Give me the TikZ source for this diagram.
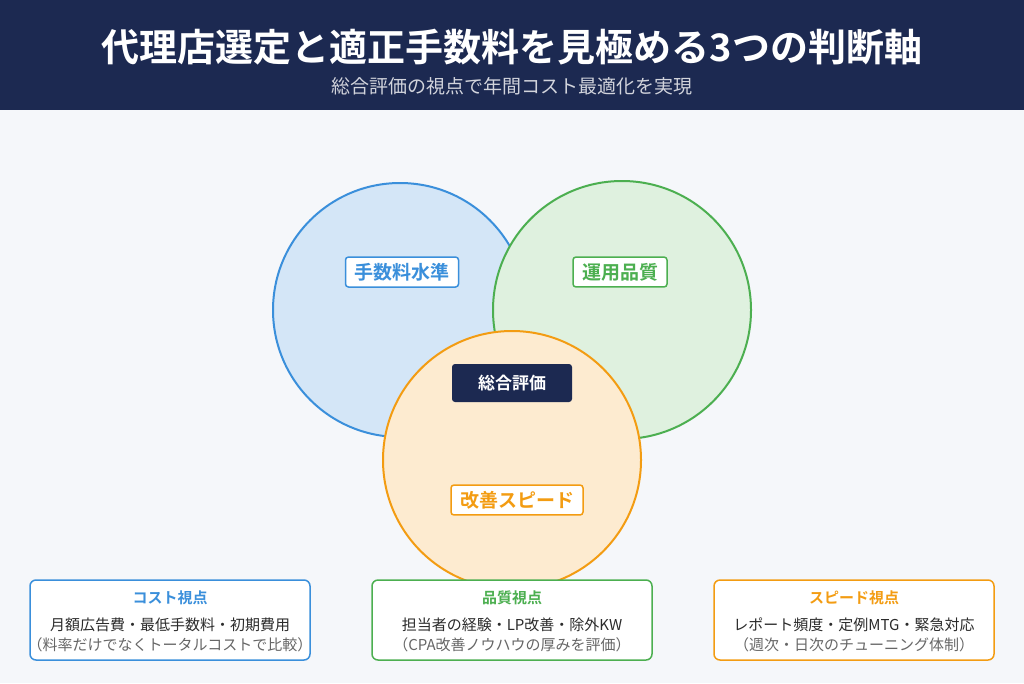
\documentclass[tikz,border=0pt]{standalone}
\usepackage{fontspec}
\setmainfont{Noto Sans CJK JP}
\newfontfamily\jpbold{Noto Sans CJK JP Bold}
\definecolor{navy}{HTML}{1C2951}
\definecolor{bgpage}{HTML}{F5F7FA}
\definecolor{costblue}{HTML}{3A8FDB}
\definecolor{qualgreen}{HTML}{4CAF50}
\definecolor{speedorange}{HTML}{F39C12}
\definecolor{textdark}{HTML}{2B2B2B}
\definecolor{textgray}{HTML}{666666}
\tikzset{
  axislabel/.style={draw=#1, text=#1, fill=white, line width=1.5pt, rounded corners=3pt,
    inner xsep=9pt, inner ysep=6pt, font=\jpbold\fontsize{19}{21}\selectfont},
  infobox/.style={draw=#1, fill=white, line width=1.5pt, rounded corners=6pt,
    minimum width=280pt, minimum height=80pt},
}
\begin{document}
\begin{tikzpicture}[x=1pt,y=-1pt]
  \useasboundingbox (0,0) rectangle (1024,683);
  \fill[bgpage] (0,0) rectangle (1024,683);
  \fill[navy] (0,0) rectangle (1024,110);
  \node[text=white, font=\jpbold\fontsize{38}{42}\selectfont] (title) at (512,47) {代理店選定と適正手数料を見極める3つの判断軸};
  \node[text=white!80!navy, font=\fontsize{19}{21}\selectfont] (subtitle) at (512,86) {総合評価の視点で年間コスト最適化を実現};
  % circles
  \draw[line width=2pt, draw=costblue, fill=costblue!22] (400,310) circle [radius=127];
  \draw[line width=2pt, draw=qualgreen, fill=qualgreen!18] (622,310) circle [radius=129];
  \draw[line width=2pt, draw=speedorange, fill=speedorange!20] (512,460) circle [radius=129];
  \node[axislabel=costblue] (cost) at (402,272) {手数料水準};
  \node[axislabel=qualgreen] (quality) at (620,272) {運用品質};
  \node[fill=navy, text=white, rounded corners=3pt, minimum width=120pt, minimum height=38pt,
    font=\jpbold\fontsize{17}{19}\selectfont] (total) at (512,383) {総合評価};
  \node[axislabel=speedorange] (speed) at (517,500) {改善スピード};
  % bottom boxes
  \foreach \x/\c/\t/\a/\b [count=\i] in {
    170/costblue/コスト視点/月額広告費・最低手数料・初期費用/（料率だけでなくトータルコストで比較）,
    512/qualgreen/品質視点/担当者の経験・LP改善・除外KW/（CPA改善ノウハウの厚みを評価）,
    854/speedorange/スピード視点/レポート頻度・定例MTG・緊急対応/（週次・日次のチューニング体制）} {
    \node[infobox=\c] (box\i) at (\x,620) {};
    \node[text=\c, font=\jpbold\fontsize{15}{17}\selectfont] (boxtitle\i) at (\x,598) {\t};
    \node[text=textdark, font=\fontsize{15}{17}\selectfont] (boxline\i) at (\x,625) {\a};
    \node[text=textgray, font=\fontsize{15}{17}\selectfont] (boxnote\i) at (\x,645) {\b};
  }
\end{tikzpicture}
\end{document}
